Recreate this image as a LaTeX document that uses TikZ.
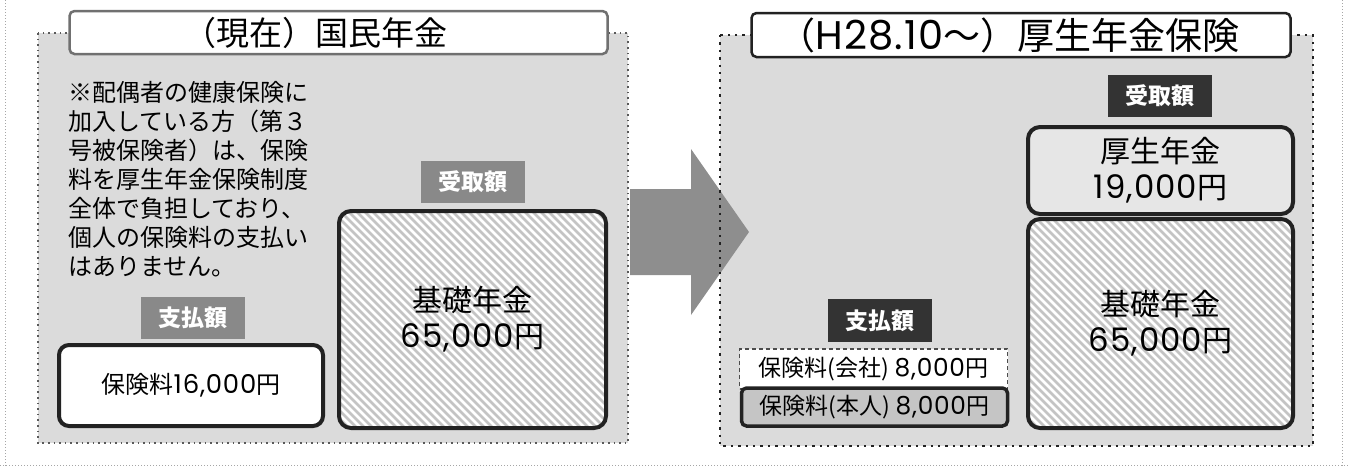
\documentclass[tikz,border=0pt]{standalone}
\usepackage{fontspec}
\setmainfont{Noto Sans CJK JP}
\newfontfamily\digitfont{Poppins}[Scale=1.08,LetterSpace=3]
\definecolor{panelbg}{RGB}{219,219,219}
\definecolor{boxline}{RGB}{34,34,34}
\definecolor{stripegray}{RGB}{196,196,196}
\definecolor{lblmid}{RGB}{137,137,137}
\definecolor{lbldark}{RGB}{51,51,51}
\definecolor{arrowgray}{RGB}{142,142,142}
\definecolor{titlegray}{RGB}{112,112,112}
\begin{document}
\begin{tikzpicture}[x=1pt,y=-1pt,
  outerline/.style={draw=gray!70,line width=1pt,dash pattern=on 1pt off 2pt},
  leftdots/.style={draw=gray!70!black,line width=1.6pt,dash pattern=on 1.6pt off 4pt},
  rightdots/.style={draw=boxline,line width=2.4pt,dash pattern=on 2.4pt off 5pt},
  titlebox/.style={fill=white,line width=2.5pt,rounded corners=5pt},
  lbl/.style={minimum width=104pt,minimum height=42pt,text=white,font=\bfseries\fontsize{23}{23}\selectfont},
  bigbox/.style={draw=boxline,line width=4pt,rounded corners=12pt,align=center,font=\fontsize{30}{36}\selectfont},
  stripe/.style={draw=stripegray,line width=2.6pt},
  hatched/.style={bigbox,fill=white,path picture={\foreach \k in {-260,-252,...,290} \draw[stripe] (path picture bounding box.north west) ++(\k,-5) -- ++(270,270);}},
  feebox/.style={minimum width=266pt,minimum height=40pt,font=\fontsize{23}{23}\selectfont}]
\tikzstyle{every node}+=[inner sep=0pt]
\useasboundingbox (0,0) rectangle (1349,467);
\draw[outerline] (5,0) -- (5,467);
\draw[outerline] (1342,0) -- (1342,467);
\draw[outerline] (0,465) -- (1349,465);
\fill[panelbg] (38,33) rectangle (628,443);
\fill[panelbg] (720,35) rectangle (1313,446);
\fill[arrowgray] (630,189) -- (691,189) -- (691,149) -- (749,232) -- (691,315) -- (691,275) -- (630,275) -- cycle;
\draw[leftdots] (38,33) rectangle (628,443);
\draw[rightdots] (720,35) rectangle (1313,446);
\node[titlebox,draw=titlegray,minimum width=538pt,minimum height=43pt,font=\fontsize{33}{33}\selectfont] (now) at (338.5,32.5) {（現在）国民年金\hspace*{46pt}};
\node[titlebox,draw=boxline,minimum width=539pt,minimum height=44pt,font=\fontsize{37}{37}\selectfont] (after) at (1021,35) {（{\digitfont H28.10}〜）厚生年金保険\hspace*{24pt}};
\node[anchor=north west,align=left,font=\fontsize{24}{29}\selectfont] (note) at (68,81) {※配偶者の健康保険に\\加入している方（第３\\号被保険者）は、保険\\料を厚生年金保険制度\\全体で負担しており、\\個人の保険料の支払い\\はありません。};
\node[lbl,fill=lblmid] (recvnow) at (473,182) {受取額};
\node[hatched,minimum width=267pt,minimum height=217pt] (basicnow) at (472.5,319.5) {基礎年金\\{\digitfont 65,000}円};
\node[lbl,fill=lblmid] (paynow) at (193,317.5) {支払額};
\node[bigbox,fill=white,rounded corners=10pt,minimum width=264pt,minimum height=81pt,font=\fontsize{24}{24}\selectfont] (feenow) at (191,385.5) {保険料{\digitfont 16,000}円};
\node[lbl,fill=lbldark] (recvafter) at (1159.5,96) {受取額};
\node[bigbox,fill=panelbg!70!white,minimum width=265pt,minimum height=87pt] (welfare) at (1160.5,170.5) {厚生年金\\{\digitfont 19,000}円};
\node[hatched,minimum width=265pt,minimum height=209pt] (basicafter) at (1160.5,323.5) {基礎年金\\{\digitfont 65,000}円};
\node[lbl,fill=lbldark,minimum height=43pt] (payafter) at (879.5,320.5) {支払額};
\node[feebox,fill=white,draw=gray!60!black,line width=1.5pt,dash pattern=on 4pt off 3pt,minimum width=268pt] (company) at (873.5,369) {保険料(会社) {\digitfont 8,000}円};
\node[feebox,fill=panelbg!90!black,draw=boxline,line width=3.5pt,rounded corners=5pt,minimum height=38pt] (self) at (874.5,407) {保険料(本人) {\digitfont 8,000}円};
\end{tikzpicture}
\end{document}
